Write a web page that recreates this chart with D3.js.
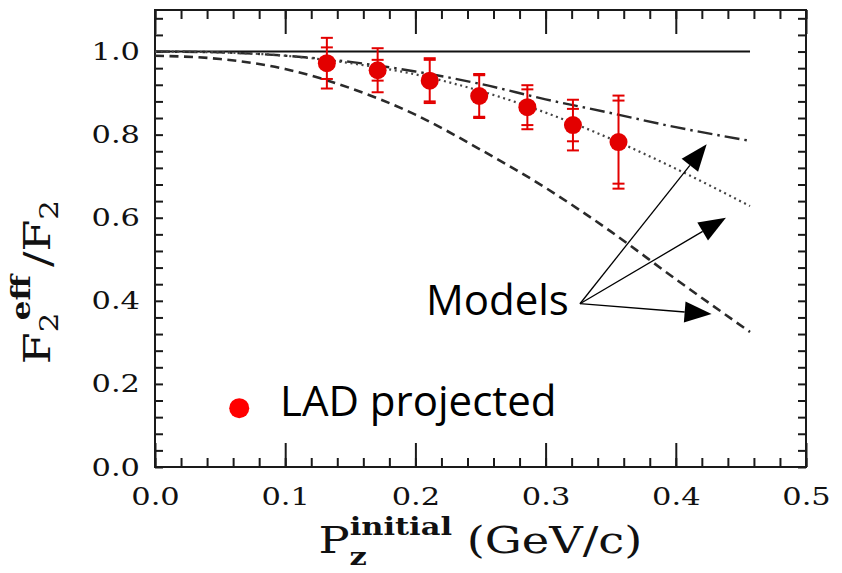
<!DOCTYPE html>
<html>
<head>
<meta charset="utf-8">
<script src="https://cdn.jsdelivr.net/npm/d3@7"></script>
<style>
  html, body { margin: 0; padding: 0; background: #fff; }
  svg { display: block; }
  .serif { font-family: "DejaVu Serif", serif; fill: #111; }
  .note { font-family: "Open Sans", "Noto Sans", sans-serif; fill: #000; }
</style>
</head>
<body>
<svg id="chart" width="842" height="573"></svg>
<script>
// Projected LAD points: initial-state momentum and F2eff/F2 ratio
const pzValues    = [0.132, 0.171, 0.211, 0.249, 0.286, 0.321, 0.356];
const ratioValues = [0.972, 0.955, 0.930, 0.893, 0.866, 0.823, 0.782];
// total (outer caps) and statistical (inner caps) uncertainties
const errTotal = [0.061, 0.053, 0.054, 0.053, 0.053, 0.061, 0.112];
const errStat  = [0.038, 0.025, 0.050, 0.050, 0.043, 0.039, 0.100];

// Model curves sampled on a common momentum grid
const modelPz      = [0, 0.05, 0.10, 0.15, 0.20, 0.25, 0.30, 0.35, 0.40, 0.457];
const modelDashDot = [1.000, 0.998, 0.990, 0.975, 0.952, 0.922, 0.885, 0.852, 0.818, 0.785];
const modelDotted  = [1.000, 0.998, 0.990, 0.972, 0.945, 0.905, 0.853, 0.790, 0.718, 0.628];
const modelDashed  = [0.990, 0.982, 0.958, 0.912, 0.848, 0.764, 0.672, 0.567, 0.452, 0.325];
const unityPz    = [0, 0.457];
const unityRatio = [1, 1];

// Axis ticks and labels
const xMajorTicks = [0, 0.1, 0.2, 0.3, 0.4, 0.5];
const xTickLabels = ["0.0", "0.1", "0.2", "0.3", "0.4", "0.5"];
const yMajorTicks = [0, 0.2, 0.4, 0.6, 0.8, 1.0];
const yTickLabels = ["0.0", "0.2", "0.4", "0.6", "0.8", "1.0"];
const xMinorTicks = d3.range(0, 0.5001, 0.02);
const yMinorTicks = d3.range(0, 1.1, 0.04);

// Annotation anchors (data coordinates)
const modelsLabel = { pz: 0.2081, ratio: 0.3667, text: "Models" };
const arrowFrom   = { pz: 0.3264, ratio: 0.393 };
const arrowTips   = [
  { pz: 0.4237, ratio: 0.777 },
  { pz: 0.4385, ratio: 0.600 },
  { pz: 0.4275, ratio: 0.368 }
];
const legendDot  = { pz: 0.0647, ratio: 0.1416 };
const legendText = { pz: 0.096, ratio: 0.123, text: "LAD projected" };

const svg = d3.select("#chart");
const x = d3.scaleLinear().domain([0, 0.5]).range([155, 806]);
const y = d3.scaleLinear().domain([0, 1.1]).range([467, 10]);
const STRETCH = 1.22;  // wide serif lettering used on the axes

// --- tick marks on all four sides, pointing inward ---
function styleTicks(g) {
  g.select(".domain").remove();
  g.selectAll(".tick line").attr("stroke", "#1a1a1a").attr("stroke-width", 2);
}
svg.append("g").attr("transform", `translate(0,${y(0)})`)
  .call(d3.axisBottom(x).tickValues(xMinorTicks).tickSize(-9).tickFormat("")).call(styleTicks);
svg.append("g").attr("transform", `translate(0,${y(0)})`)
  .call(d3.axisBottom(x).tickValues(xMajorTicks).tickSize(-24).tickFormat("")).call(styleTicks);
svg.append("g").attr("transform", `translate(0,${y(1.1)})`)
  .call(d3.axisTop(x).tickValues(xMinorTicks).tickSize(-9).tickFormat("")).call(styleTicks);
svg.append("g").attr("transform", `translate(0,${y(1.1)})`)
  .call(d3.axisTop(x).tickValues(xMajorTicks).tickSize(-24).tickFormat("")).call(styleTicks);
svg.append("g").attr("transform", `translate(${x(0)},0)`)
  .call(d3.axisLeft(y).tickValues(yMinorTicks).tickSize(-8).tickFormat("")).call(styleTicks);
svg.append("g").attr("transform", `translate(${x(0.5)},0)`)
  .call(d3.axisRight(y).tickValues(yMinorTicks).tickSize(-8).tickFormat("")).call(styleTicks);

// --- tick labels ---
const xLab = svg.append("g").attr("transform", `translate(0,${y(0)})`)
  .call(d3.axisBottom(x).tickValues(xMajorTicks).tickSize(0).tickPadding(20)
    .tickFormat((d, i) => xTickLabels[i]));
xLab.select(".domain").remove();
xLab.selectAll("text").attr("class", "serif").attr("font-size", 25)
  .attr("font-family", null).attr("transform", `scale(${STRETCH},1)`);

const yLab = svg.append("g").attr("transform", `translate(${x(0)},0)`)
  .call(d3.axisLeft(y).tickValues(yMajorTicks).tickSize(0).tickPadding(15 / STRETCH)
    .tickFormat((d, i) => yTickLabels[i]));
yLab.select(".domain").remove();
yLab.selectAll("text").attr("class", "serif").attr("font-size", 25)
  .attr("font-family", null).attr("transform", `scale(${STRETCH},1)`);

// --- frame ---
svg.append("rect")
  .attr("x", x(0)).attr("y", y(1.1))
  .attr("width", x(0.5) - x(0)).attr("height", y(0) - y(1.1))
  .attr("fill", "none").attr("stroke", "#1a1a1a").attr("stroke-width", 2);

// --- model curves ---
const line = d3.line().x(d => x(d[0])).y(d => y(d[1])).curve(d3.curveMonotoneX);
const zip = (a, b) => a.map((v, i) => [v, b[i]]);

svg.append("path").datum(zip(unityPz, unityRatio)).attr("d", line)
  .attr("fill", "none").attr("stroke", "#111").attr("stroke-width", 2);
svg.append("path").datum(zip(modelPz, modelDashed)).attr("d", line)
  .attr("fill", "none").attr("stroke", "#2a2a2a").attr("stroke-width", 2.6)
  .attr("stroke-dasharray", "9,5.5");
svg.append("path").datum(zip(modelPz, modelDashDot)).attr("d", line)
  .attr("fill", "none").attr("stroke", "#2a2a2a").attr("stroke-width", 2.4)
  .attr("stroke-dasharray", "15,5,2.5,5");
svg.append("path").datum(zip(modelPz, modelDotted)).attr("d", line)
  .attr("fill", "none").attr("stroke", "#444").attr("stroke-width", 2.2)
  .attr("stroke-dasharray", "2,3.6");

// --- data points with two-level error bars ---
const pts = pzValues.map((p, i) => ({ p, r: ratioValues[i], et: errTotal[i], es: errStat[i] }));
const red = "#e30000";
const gPts = svg.append("g");
const capW = 6;
gPts.selectAll("line.bar").data(pts).join("line").attr("class", "bar")
  .attr("x1", d => x(d.p)).attr("x2", d => x(d.p))
  .attr("y1", d => y(d.r + d.et)).attr("y2", d => y(d.r - d.et))
  .attr("stroke", red).attr("stroke-width", 2);
const caps = [];
pts.forEach(d => {
  [d.r + d.et, d.r - d.et, d.r + d.es, d.r - d.es].forEach(v => caps.push({ p: d.p, v }));
});
gPts.selectAll("line.cap").data(caps).join("line").attr("class", "cap")
  .attr("x1", d => x(d.p) - capW).attr("x2", d => x(d.p) + capW)
  .attr("y1", d => y(d.v)).attr("y2", d => y(d.v))
  .attr("stroke", red).attr("stroke-width", 2);
gPts.selectAll("circle").data(pts).join("circle")
  .attr("cx", d => x(d.p)).attr("cy", d => y(d.r)).attr("r", 9)
  .attr("fill", red);

// --- "Models" annotation with arrows ---
svg.append("text").attr("class", "note")
  .attr("x", x(modelsLabel.pz)).attr("y", y(modelsLabel.ratio))
  .attr("font-size", 42).text(modelsLabel.text);

const ax0 = x(arrowFrom.pz), ay0 = y(arrowFrom.ratio);
arrowTips.forEach(t => {
  const tx = x(t.pz), ty = y(t.ratio);
  const dx = tx - ax0, dy = ty - ay0, len = Math.hypot(dx, dy);
  const ux = dx / len, uy = dy / len;
  const headL = 27, headW = 10.5;
  const bx = tx - ux * headL, by = ty - uy * headL;
  svg.append("line").attr("x1", ax0).attr("y1", ay0).attr("x2", bx).attr("y2", by)
    .attr("stroke", "#000").attr("stroke-width", 1.3);
  svg.append("path")
    .attr("d", `M${tx},${ty}L${bx - uy * headW},${by + ux * headW}L${bx + uy * headW},${by - ux * headW}Z`)
    .attr("fill", "#000");
});

// --- legend ---
svg.append("circle").attr("cx", x(legendDot.pz)).attr("cy", y(legendDot.ratio))
  .attr("r", 10).attr("fill", "#ff0000");
svg.append("text").attr("class", "note")
  .attr("x", x(legendText.pz)).attr("y", y(legendText.ratio))
  .attr("font-size", 42).text(legendText.text);

// --- x axis title: P_z^initial (GeV/c) ---
const cx = (x(0) + x(0.5)) / 2;
const xt = svg.append("text").attr("class", "serif").attr("font-size", 38);
xt.append("tspan").text("P");
const supInit = xt.append("tspan").attr("font-size", 25).attr("font-weight", "bold")
  .attr("dy", -18).text("initial");
const subZ = xt.append("tspan").attr("font-size", 25).attr("font-weight", "bold")
  .attr("dy", 30).text("z");
const rest = xt.append("tspan").attr("dy", -12).text(" (GeV/c)");
const wInit = supInit.node().getComputedTextLength();
const wZ = subZ.node().getComputedTextLength();
subZ.attr("dx", -wInit);
rest.attr("dx", wInit - wZ);
const xtW = xt.node().getBBox().width * STRETCH;
xt.attr("transform", `translate(${cx - xtW / 2},553) scale(${STRETCH},1)`);

// --- y axis title: F_2^eff / F_2 (rotated) ---
const SQUEEZE = 0.82;
const yt = svg.append("text").attr("class", "serif").attr("font-size", 46);
yt.append("tspan").text("F");
const sub2 = yt.append("tspan").attr("font-size", 31).attr("dy", 10).text("2");
const supEff = yt.append("tspan").attr("font-size", 31).attr("font-weight", "bold")
  .attr("dy", -34).text("eff");
const slash = yt.append("tspan").attr("dy", 24).text("/F");
yt.append("tspan").attr("font-size", 31).attr("dy", 10).text("2");
const w2 = sub2.node().getComputedTextLength();
supEff.attr("dx", -w2 + 12);
slash.attr("dx", 8);
const ytW = yt.node().getBBox().width;
yt.attr("transform", `translate(50,${282 + ytW / 2}) rotate(-90) scale(1,${SQUEEZE})`);
</script>
</body>
</html>
